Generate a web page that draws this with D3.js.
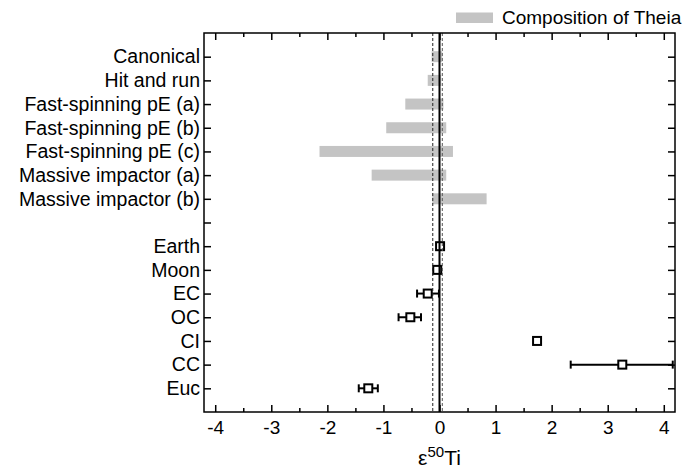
<!DOCTYPE html>
<html>
<head>
<meta charset="utf-8">
<script src="https://cdn.jsdelivr.net/npm/d3@7"></script>
<style>
  body { margin: 0; background: #fff; }
  svg text { font-family: "Liberation Sans", Arial, sans-serif; fill: #000; }
</style>
</head>
<body>
<svg id="chart"></svg>
<script>
// Theia composition ranges per impact scenario
const scenarios = ["Canonical", "Hit and run", "Fast-spinning pE (a)", "Fast-spinning pE (b)",
                   "Fast-spinning pE (c)", "Massive impactor (a)", "Massive impactor (b)"];
const theiaMin = [-0.14, -0.21, -0.61, -0.95, -2.14, -1.21, -0.13];
const theiaMax = [0.05, 0.03, 0.07, 0.12, 0.24, 0.12, 0.84];

// measured bodies, value with error range
const bodies = ["Earth", "Moon", "EC", "OC", "CI", "CC", "Euc"];
const bodyValue = [0.01, -0.04, -0.21, -0.52, 1.74, 3.26, -1.27];
const errLow = [-0.01, -0.06, -0.40, -0.73, 1.72, 2.34, -1.44];
const errHigh = [0.03, -0.02, -0.01, -0.33, 1.76, 4.16, -1.10];

const xTicks = [-4, -3, -2, -1, 0, 1, 2, 3, 4];
const refDashed = [-0.12, 0.05];
const refSolid = 0;

const W = 686, H = 471;
const mLeft = 204, mRight = 675, mTop = 33, mBottom = 412;

const svg = d3.select("#chart").attr("width", W).attr("height", H);

const x = d3.scaleLinear().domain([-4.2, 4.2]).range([mLeft, mRight]);
const rows = [...scenarios, " ", ...bodies];
const y = d3.scalePoint().domain(rows).range([mTop, mBottom]).padding(1);

// Theia bars
svg.selectAll("rect.bar")
    .data(scenarios)
    .join("rect")
    .attr("class", "bar")
    .attr("x", (d, i) => x(theiaMin[i]))
    .attr("width", (d, i) => x(theiaMax[i]) - x(theiaMin[i]))
    .attr("y", d => y(d) - 5.5)
    .attr("height", 11)
    .attr("fill", "#c4c4c4");

// error bars
const eb = svg.append("g").attr("stroke", "#000").attr("stroke-width", 2);
bodies.forEach((b, i) => {
    const yy = y(b);
    if (errHigh[i] - errLow[i] > 0.05) {
        eb.append("line").attr("x1", x(errLow[i])).attr("x2", x(errHigh[i])).attr("y1", yy).attr("y2", yy);
        eb.append("line").attr("x1", x(errLow[i])).attr("x2", x(errLow[i])).attr("y1", yy - 4).attr("y2", yy + 4);
        eb.append("line").attr("x1", x(errHigh[i])).attr("x2", x(errHigh[i])).attr("y1", yy - 4).attr("y2", yy + 4);
    }
});

// square markers
svg.selectAll("rect.pt")
    .data(bodies)
    .join("rect")
    .attr("class", "pt")
    .attr("x", (d, i) => x(bodyValue[i]) - 4)
    .attr("y", d => y(d) - 4)
    .attr("width", 8)
    .attr("height", 8)
    .attr("fill", "#fff")
    .attr("stroke", "#000")
    .attr("stroke-width", 2);

// reference lines
svg.selectAll("line.dash")
    .data(refDashed)
    .join("line")
    .attr("class", "dash")
    .attr("x1", d => x(d)).attr("x2", d => x(d))
    .attr("y1", mTop).attr("y2", mBottom)
    .attr("stroke", (d, i) => i === 0 ? "#222" : "#555")
    .attr("stroke-width", 1)
    .attr("stroke-dasharray", "3,2");

svg.append("line")
    .attr("x1", x(refSolid)).attr("x2", x(refSolid))
    .attr("y1", mTop).attr("y2", mBottom)
    .attr("stroke", "#000")
    .attr("stroke-width", 2);

// axes, ticks pointing inward
const minorTicks = d3.range(-4, 4.01, 0.5).filter(v => !Number.isInteger(v));

function styleAxis(g) {
    g.select(".domain").remove();
    g.selectAll(".tick line").attr("stroke", "#000").attr("stroke-width", 1.5);
}

svg.append("g").attr("transform", `translate(0,${mBottom})`)
    .call(d3.axisBottom(x).tickValues(xTicks).tickSize(-7).tickPadding(9).tickFormat(d3.format("d")))
    .call(styleAxis)
    .selectAll("text").style("font-size", "19px").text(d => String(d));
svg.append("g").attr("transform", `translate(0,${mBottom})`)
    .call(d3.axisBottom(x).tickValues(minorTicks).tickSize(-4).tickFormat(""))
    .call(styleAxis);
svg.append("g").attr("transform", `translate(0,${mTop})`)
    .call(d3.axisTop(x).tickValues(xTicks).tickSize(-7).tickFormat(""))
    .call(styleAxis);
svg.append("g").attr("transform", `translate(0,${mTop})`)
    .call(d3.axisTop(x).tickValues(minorTicks).tickSize(-4).tickFormat(""))
    .call(styleAxis);

svg.append("g").attr("transform", `translate(${mLeft},0)`)
    .call(d3.axisLeft(y).tickSize(-7).tickPadding(4))
    .call(styleAxis)
    .selectAll("text").style("font-size", "19.5px");
svg.append("g").attr("transform", `translate(${mRight},0)`)
    .call(d3.axisRight(y).tickSize(-7).tickFormat(""))
    .call(styleAxis);

// frame
svg.append("rect")
    .attr("x", mLeft).attr("y", mTop)
    .attr("width", mRight - mLeft).attr("height", mBottom - mTop)
    .attr("fill", "none").attr("stroke", "#000").attr("stroke-width", 1.5);

// x label
const xl = svg.append("text")
    .attr("x", x(0)).attr("y", 465)
    .attr("text-anchor", "middle")
    .style("font-size", "21px");
xl.append("tspan").text("ε");
xl.append("tspan").attr("dy", -8).style("font-size", "15px").text("50");
xl.append("tspan").attr("dy", 8).text("Ti");

// legend
svg.append("rect").attr("x", 456).attr("y", 12.5).attr("width", 37).attr("height", 10.5).attr("fill", "#c4c4c4");
svg.append("text").attr("x", 502).attr("y", 24).style("font-size", "19px").text("Composition of Theia");
</script>
</body>
</html>
